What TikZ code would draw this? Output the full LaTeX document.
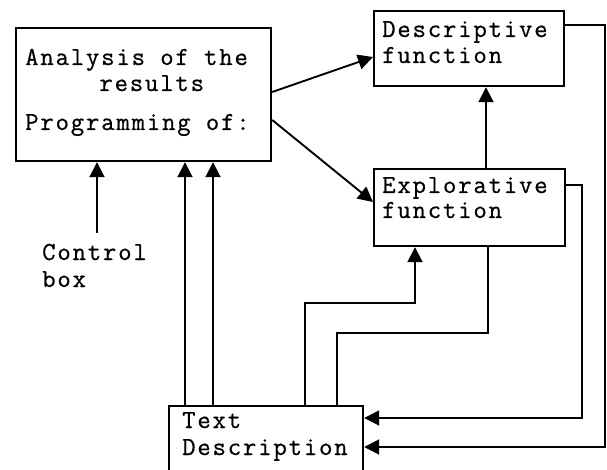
\documentclass[tikz,border=0pt]{standalone}
\usepackage{fontspec}
\newfontfamily\tw[LetterSpace=7,FakeBold=0.6]{Latin Modern Mono}
\usetikzlibrary{arrows.meta}
\begin{document}
\begin{tikzpicture}[x=1pt,y=-1pt,
  box/.style={draw,line width=2.2pt,minimum width=#1,inner sep=0pt,anchor=north west},
  lbl/.style={inner sep=0pt,anchor=base west,font=\tw\fontsize{26}{28}\selectfont},
  conn/.style={line width=1.9pt},
  arr/.style={conn,-{Triangle[length=15pt,width=15pt]}}]
\clip (0,0) rectangle (607,470);
\fill[white] (0,0) rectangle (607,470);
% boxes
\node[box=255pt,minimum height=133pt] (main) at (15,27) {};
\node[box=190pt,minimum height=75pt] (desc) at (373,10) {};
\node[box=191pt,minimum height=77pt] (expl) at (373,168) {};
\node[box=194pt,minimum height=90pt] (text) at (168,405) {};
% texts
\node[lbl] (t1) at (25,65) {Analysis of the};
\node[lbl] (t2) at (25,91) {\phantom{xxxxx}results};
\node[lbl] (t3) at (25,130) {Programming of:};
\node[lbl] (d1) at (382,37) {Descriptive};
\node[lbl] (d2) at (382,63) {function};
\node[lbl] (e1) at (382,193) {Explorative};
\node[lbl] (e2) at (382,218) {function};
\node[lbl] (x1) at (182,428) {Text};
\node[lbl] (x2) at (182,455) {Description};
\node[lbl] (ctrl1) at (42,260) {Control};
\node[lbl] (ctrl2) at (42,287) {box};
% connectors
\coordinate (c0) at (97,233);
\draw[arr] (c0) -- (c0 |- main.south);
\draw[arr] (main.east |- 0,92) -- (desc.west |- 0,57);
\draw[arr] (main.east |- 0,120) -- (expl.west |- 0,202);
\draw[arr] (expl.north -| 486,0) -- (desc.south -| 486,0);
\draw[arr] (expl.east |- 0,185) -- (582,185) -- (582,418) -- (text.east |- 0,418);
\draw[arr] (desc.east |- 0,25) -- (605,25) -- (605,447) -- (text.east |- 0,447);
\draw[arr] (text.north -| 305,0) -- (305,303) -- (415,303) -- (415,0 |- expl.south);
\draw[conn] (text.north -| 337,0) -- (337,333) -- (488,333) -- (488,0 |- expl.south);
\draw[arr] (text.north -| 185,0) -- (185,0 |- main.south);
\draw[arr] (text.north -| 213,0) -- (213,0 |- main.south);
\end{tikzpicture}
\end{document}
